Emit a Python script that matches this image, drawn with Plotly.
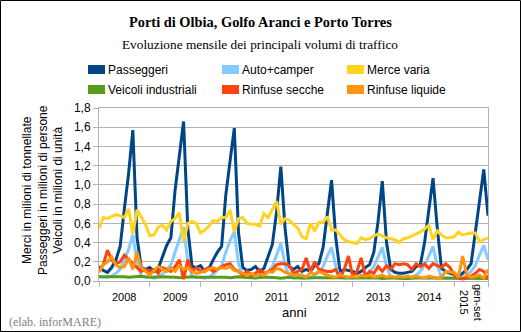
import plotly.graph_objects as go

# ---------------- data ----------------
months = list(range(93))  # gen 2008 ... set 2015
year_labels = ["2008", "2009", "2010", "2011", "2012", "2013", "2014"]
last_label = "gen-set<br>2015"

passeggeri = [
    0.15, 0.11, 0.09, 0.14, 0.22, 0.36, 0.75, 1.12, 1.57, 0.45, 0.14, 0.12,
    0.14, 0.10, 0.13, 0.25, 0.37, 0.45, 0.95, 1.30, 1.66, 0.55, 0.15, 0.14,
    0.16, 0.10, 0.13, 0.22, 0.30, 0.36, 0.90, 1.25, 1.59, 0.50, 0.14, 0.11,
    0.12, 0.15, 0.10, 0.13, 0.25, 0.38, 0.72, 1.19, 0.55, 0.15, 0.12, 0.15,
    0.10, 0.12, 0.10, 0.16, 0.18, 0.35, 0.70, 1.05, 0.45, 0.10, 0.12, 0.11,
    0.10, 0.08, 0.10, 0.14, 0.17, 0.30, 0.62, 1.04, 0.40, 0.12, 0.09, 0.08,
    0.08, 0.09, 0.10, 0.15, 0.17, 0.40, 0.75, 1.07, 0.55, 0.13, 0.10, 0.08,
    0.07, 0.05, 0.08, 0.12, 0.18, 0.50, 0.85, 1.16, 0.68,
]
auto_camper = [
    0.05, 0.04, 0.04, 0.05, 0.08, 0.12, 0.22, 0.33, 0.48, 0.20, 0.05, 0.04,
    0.04, 0.03, 0.04, 0.07, 0.12, 0.17, 0.30, 0.42, 0.56, 0.20, 0.05, 0.04,
    0.04, 0.03, 0.04, 0.07, 0.12, 0.16, 0.30, 0.42, 0.51, 0.18, 0.05, 0.04,
    0.04, 0.03, 0.04, 0.06, 0.09, 0.15, 0.27, 0.39, 0.17, 0.05, 0.03, 0.04,
    0.03, 0.03, 0.04, 0.06, 0.09, 0.15, 0.26, 0.35, 0.15, 0.04, 0.03, 0.03,
    0.03, 0.03, 0.04, 0.06, 0.09, 0.15, 0.25, 0.35, 0.15, 0.04, 0.03, 0.03,
    0.03, 0.03, 0.04, 0.06, 0.10, 0.16, 0.26, 0.36, 0.16, 0.04, 0.03, 0.03,
    0.03, 0.03, 0.04, 0.06, 0.10, 0.16, 0.27, 0.37, 0.22,
]
merce_varia = [
    0.55, 0.66, 0.65, 0.67, 0.69, 0.68, 0.66, 0.75, 0.49, 0.74, 0.67, 0.59,
    0.47, 0.48, 0.56, 0.58, 0.53, 0.62, 0.65, 0.71, 0.41, 0.60, 0.62, 0.60,
    0.50, 0.53, 0.57, 0.63, 0.62, 0.66, 0.66, 0.74, 0.51, 0.65, 0.66, 0.60,
    0.59, 0.59, 0.57, 0.70, 0.66, 0.74, 0.83, 0.59, 0.65, 0.63, 0.59, 0.55,
    0.46, 0.44, 0.60, 0.52, 0.61, 0.61, 0.67, 0.53, 0.53, 0.48, 0.43, 0.41,
    0.40, 0.39, 0.45, 0.43, 0.44, 0.47, 0.49, 0.47, 0.45, 0.44, 0.43, 0.40,
    0.44, 0.45, 0.47, 0.49, 0.51, 0.54, 0.58, 0.43, 0.52, 0.48, 0.45, 0.45,
    0.46, 0.51, 0.48, 0.49, 0.50, 0.50, 0.41, 0.43, 0.45,
]
veicoli_industriali = [
    0.045, 0.045, 0.05, 0.05, 0.05, 0.05, 0.045, 0.04, 0.045, 0.05, 0.05, 0.045,
    0.04, 0.04, 0.045, 0.045, 0.045, 0.045, 0.04, 0.035, 0.04, 0.045, 0.045, 0.04,
    0.04, 0.04, 0.045, 0.045, 0.045, 0.04, 0.04, 0.035, 0.04, 0.045, 0.04, 0.035,
    0.035, 0.035, 0.04, 0.04, 0.04, 0.04, 0.035, 0.03, 0.035, 0.04, 0.035, 0.03,
    0.03, 0.03, 0.035, 0.035, 0.035, 0.035, 0.03, 0.03, 0.03, 0.035, 0.03, 0.03,
    0.03, 0.03, 0.03, 0.035, 0.03, 0.03, 0.03, 0.025, 0.03, 0.03, 0.03, 0.025,
    0.025, 0.025, 0.03, 0.03, 0.03, 0.03, 0.025, 0.025, 0.025, 0.03, 0.025, 0.025,
    0.025, 0.025, 0.025, 0.03, 0.03, 0.025, 0.025, 0.025, 0.025,
]
rinfuse_secche = [
    0.10, 0.17, 0.32, 0.22, 0.18, 0.20, 0.27, 0.22, 0.18, 0.14, 0.10, 0.12,
    0.10, 0.12, 0.08, 0.14, 0.12, 0.10, 0.15, 0.22, 0.02, 0.22, 0.10, 0.14,
    0.10, 0.12, 0.14, 0.10, 0.12, 0.15, 0.17, 0.18, 0.12, 0.10, 0.06, 0.10,
    0.06, 0.08, 0.12, 0.08, 0.10, 0.12, 0.17, 0.18, 0.18, 0.16, 0.08, 0.10,
    0.12, 0.24, 0.10, 0.20, 0.12, 0.11, 0.10, 0.10, 0.12, 0.03, 0.12, 0.26,
    0.05, 0.10, 0.24, 0.05, 0.10, 0.08, 0.15, 0.10, 0.16, 0.12, 0.18, 0.17,
    0.18, 0.17, 0.12, 0.18, 0.15, 0.18, 0.13, 0.18, 0.16, 0.14, 0.18, 0.14,
    0.06, 0.03, 0.02, 0.03, 0.05, 0.08, 0.12, 0.10, 0.02,
]
rinfuse_liquide = [
    0.09, 0.17, 0.20, 0.25, 0.17, 0.14, 0.15, 0.24, 0.12, 0.30, 0.14, 0.10,
    0.06, 0.11, 0.15, 0.12, 0.10, 0.14, 0.10, 0.16, 0.12, 0.14, 0.10, 0.08,
    0.09, 0.10, 0.12, 0.14, 0.12, 0.14, 0.13, 0.15, 0.11, 0.10, 0.08, 0.06,
    0.08, 0.05, 0.07, 0.06, 0.10, 0.09, 0.13, 0.12, 0.09, 0.08, 0.06, 0.07,
    0.06, 0.04, 0.09, 0.07, 0.10, 0.08, 0.06, 0.05, 0.04, 0.06, 0.05, 0.04,
    0.05, 0.04, 0.06, 0.05, 0.06, 0.04, 0.05, 0.06, 0.04, 0.05, 0.04, 0.05,
    0.04, 0.05, 0.04, 0.05, 0.04, 0.03, 0.05, 0.04, 0.03, 0.04, 0.10, 0.09,
    0.09, 0.04, 0.26, 0.06, 0.04, 0.05, 0.06, 0.03, 0.12,
]

series_names = ["Passeggeri", "Auto+camper", "Merce varia",
                "Veicoli industriali", "Rinfuse secche", "Rinfuse liquide"]
series_values = [passeggeri, auto_camper, merce_varia,
                 veicoli_industriali, rinfuse_secche, rinfuse_liquide]
colors = ["#004586", "#83caff", "#ffd320", "#579d1c", "#ff420e", "#ff950e"]

# ---------------- figure ----------------
W, H = 521, 332
ML, MR, MT, MB = 99, 33, 108, 51
PW, PH = W - ML - MR, H - MT - MB

def px(xp):
    return (xp - ML) / PW

def py(yp):
    return (H - MB - yp) / PH

fig = go.Figure()
for name, vals, col in zip(series_names, series_values, colors):
    fig.add_trace(go.Scatter(x=months, y=vals, mode="lines", name=name,
                             line=dict(color=col, width=3), showlegend=False))

grid = "#b3b3b3"
fig.update_layout(
    width=W, height=H,
    margin=dict(l=ML, r=MR, t=MT, b=MB),
    paper_bgcolor="white", plot_bgcolor="white",
    separators=",.",
    font=dict(family="Liberation Sans, Arial, sans-serif", size=12, color="black"),
    xaxis=dict(range=[0, 92], tickvals=[0, 12, 24, 36, 48, 60, 72, 84, 92],
               showticklabels=False, ticks="outside", ticklen=5, tickcolor=grid,
               showgrid=False, zeroline=False, showline=True, linecolor=grid,
               mirror=True, fixedrange=True),
    yaxis=dict(range=[0, 1.8], dtick=0.2, tickformat=".1f", ticks="outside",
               ticklen=5, tickcolor=grid, showgrid=True, gridcolor=grid,
               gridwidth=1, zeroline=False, showline=True, linecolor=grid,
               mirror=True, tickfont=dict(size=12), fixedrange=True),
    showlegend=False,
)

def A(text, xp, yp, size, xanchor="center", family=None, color="black", angle=0):
    f = dict(size=size, color=color)
    if family:
        f["family"] = family
    return dict(text=text, x=px(xp), y=py(yp), xref="paper", yref="paper",
                xanchor=xanchor, yanchor="middle", textangle=angle,
                showarrow=False, font=f)

serif = "Liberation Serif, Times New Roman, serif"
ann = []
ann.append(A("<b>Porti di Olbia, Golfo Aranci e Porto Torres</b>", 260, 22, 14.4, family=serif))
ann.append(A("Evoluzione mensile dei principali volumi di traffico", 260, 44, 13.3, family=serif))

# custom legend
leg_x = [88, 222, 347]
leg_y = [69.5, 89.5]
shapes = []
for k, (name, col) in enumerate(zip(series_names, colors)):
    r, c = divmod(k, 3)
    x0 = leg_x[c]
    yc = leg_y[r]
    shapes.append(dict(type="rect", xref="paper", yref="paper",
                       x0=px(x0), x1=px(x0 + 17), y0=py(yc + 4.5), y1=py(yc - 4.5),
                       fillcolor=col, line=dict(width=0)))
    ann.append(A(name, x0 + 18, yc, 12, xanchor="left"))

# y axis title (three lines)
ann.append(A("Merci in milioni di tonnellate<br>Passeggeri in milioni di persone<br>Veicoli in milioni di unità",
             42, 190, 12, angle=-90))
# year labels
for k, lab in enumerate(year_labels):
    ann.append(dict(text=lab, x=12 * k + 6, y=py(297), xref="x", yref="paper",
                    xanchor="center", yanchor="middle", showarrow=False,
                    font=dict(size=11)))
ann.append(A(last_label, 471, 302, 11, angle=90))
ann.append(A("anni", 294, 312, 13))
ann.append(A("(elab. inforMARE)", 7, 322, 12, xanchor="left", family=serif, color="#808080"))

# outer black frame
shapes.append(dict(type="rect", xref="paper", yref="paper",
                   x0=px(0.5), x1=px(W - 0.5), y0=py(H - 0.5), y1=py(0.5),
                   line=dict(color="black", width=1), fillcolor="rgba(0,0,0,0)"))
fig.update_layout(annotations=ann, shapes=shapes)

fig.write_html("out.html")
